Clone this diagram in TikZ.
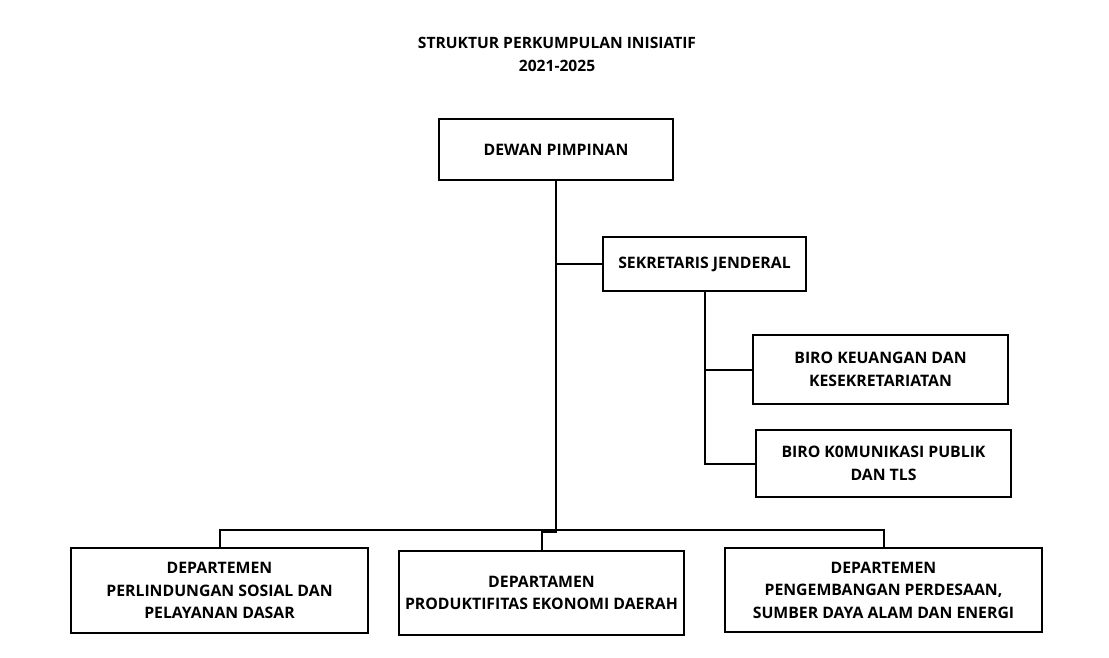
\documentclass[tikz,border=0pt]{standalone}
\usepackage{fontspec}
\setmainfont{Open Sans}
\begin{document}
\begin{tikzpicture}[x=1pt,y=-1pt,
  box/.style={draw=black,line width=2pt,rectangle,inner sep=0pt,outer sep=0pt,align=center,
    font=\fontsize{15.8}{22.5}\selectfont\bfseries},
  conn/.style={line width=2pt,black}]
\useasboundingbox (0,0) rectangle (1109,657);
\node[font=\fontsize{15.6}{23}\selectfont\bfseries,align=center] (title) at (557,54) {STRUKTUR PERKUMPULAN INISIATIF\\2021-2025};
\node[box,minimum width=234pt,minimum height=61pt] (dewan) at (556,149.5) {DEWAN PIMPINAN};
\node[box,minimum width=203pt,minimum height=54pt] (sek) at (704.5,264) {SEKRETARIS JENDERAL};
\node[box,minimum width=255pt,minimum height=69pt] (biro1) at (880.5,369.5) {BIRO KEUANGAN DAN\\KESEKRETARIATAN};
\node[box,minimum width=255pt,minimum height=67pt] (biro2) at (883.5,463.5) {BIRO K0MUNIKASI PUBLIK\\DAN TLS};
\node[box,minimum width=297pt,minimum height=85pt] (dept1) at (219.5,590.5) {DEPARTEMEN\\PERLINDUNGAN SOSIAL DAN\\PELAYANAN DASAR};
\node[box,minimum width=285pt,minimum height=84pt] (dept2) at (541.5,593) {DEPARTAMEN\\PRODUKTIFITAS EKONOMI DAERAH};
\node[box,minimum width=317pt,minimum height=84pt] (dept3) at (883.5,590) {DEPARTEMEN\\PENGEMBANGAN PERDESAAN,\\SUMBER DAYA ALAM DAN ENERGI};
\coordinate (j) at (556,530);
\draw[conn] (dewan.south) -- (j);
\draw[conn] (sek.west) -- (sek.west -| dewan.south);
\draw[conn] (sek.south) |- (biro2.west);
\draw[conn] (biro1.west) -- (biro1.west -| sek.south);
\draw[conn] (dept1.north) |- (j) -| (dept3.north);
\draw[conn] (j) -- ++(0,2) -| (dept2.north);
\end{tikzpicture}
\end{document}
